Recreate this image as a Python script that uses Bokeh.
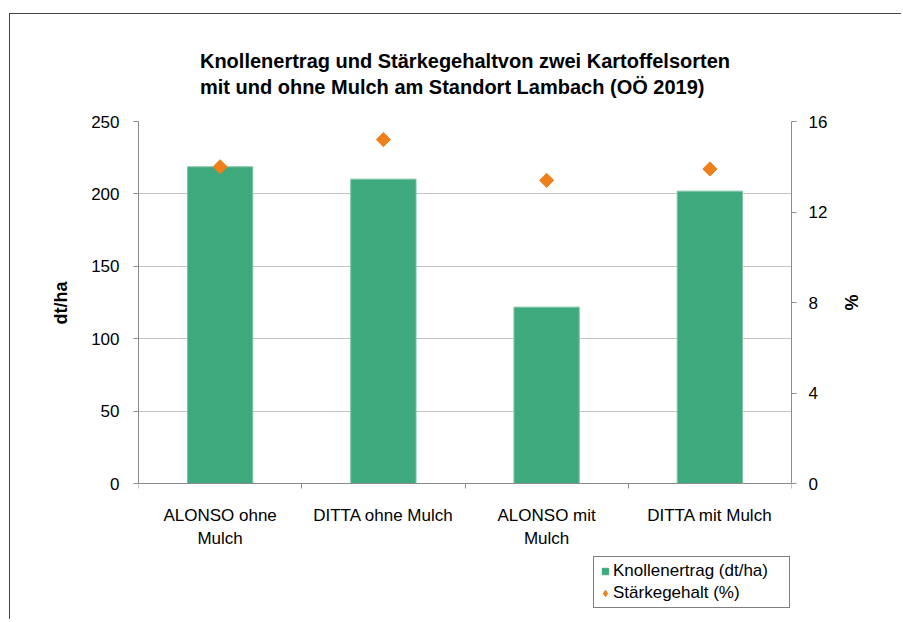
import math
from bokeh.plotting import figure
from bokeh.models import (Range1d, LinearAxis, FixedTicker, Legend, LegendItem,
                          ColumnDataSource, Title)
from bokeh.core.properties import value
from bokeh.embed import file_html
from bokeh.resources import INLINE

# ---- data ----
categories = ["ALONSO ohne\nMulch", "DITTA ohne Mulch", "ALONSO mit\nMulch", "DITTA mit Mulch"]
ertrag = [218.7, 210.2, 121.8, 201.9]          # Knollenertrag (dt/ha)
staerke = [14.0, 15.2, 13.4, 13.9]              # Stärkegehalt (%)
left_ticks = [0, 50, 100, 150, 200, 250]
right_ticks = [0, 4, 8, 12, 16]
title_lines = ["Knollenertrag und Stärkegehaltvon zwei Kartoffelsorten",
               "mit und ohne Mulch am Standort Lambach (OÖ 2019)"]
series_names = ["Knollenertrag (dt/ha)", "Stärkegehalt (%)"]
left_title = "dt/ha"
right_title = "%"

GREEN = "#3EA97C"
ORANGE = "#EF7F1A"
AXIS = "#8C8C8C"
GRID = "#C4C4C4"
FONT = "Liberation Sans"

# ---- geometry (pixels) ----
W, H = 892, 606
B_LEFT, B_RIGHT, B_TOP, B_BOTTOM = 128, 111, 107, 10
PX_0_TO_MAX = 362.0                      # pixels from 0 to 250 on the left axis
frame_h = H - B_TOP - B_BOTTOM
y_max = left_ticks[-1]
px_per_unit = PX_0_TO_MAX / y_max
y_min = y_max - frame_h / px_per_unit    # range extends below 0 for labels/legend
pct_max = right_ticks[-1]
pct_min = y_min * pct_max / y_max

xpos = [i + 0.5 for i in range(len(categories))]
src = ColumnDataSource(dict(x=xpos, ertrag=ertrag, staerke=staerke))

p = figure(width=W, height=H, output_backend="svg", toolbar_location=None,
           x_range=Range1d(0, len(categories)), y_range=Range1d(y_min, y_max),
           min_border_left=B_LEFT, min_border_right=B_RIGHT, min_border_top=B_TOP,
           min_border_bottom=B_BOTTOM, outline_line_color=None,
           margin=(13, 0, 0, 9),
           styles={"border-top": "1px solid #444444", "border-left": "1px solid #444444"})
p.extra_y_ranges = {"pct": Range1d(pct_min, pct_max)}

p.xgrid.grid_line_color = None
p.ygrid.grid_line_color = GRID
p.ygrid.ticker = FixedTicker(ticks=left_ticks[1:])

# bars
bars = p.vbar(x="x", top="ertrag", width=0.4, source=src, fill_color=GREEN,
              line_color="#7CC6A4", line_width=1)
# diamonds on secondary axis
pts = p.scatter(x="x", y="staerke", source=src, marker="square", angle=math.pi / 4,
                size=10, fill_color=ORANGE, line_color=ORANGE, y_range_name="pct")

# legend-only glyphs (one point placed outside the visible x range)
leg_sq = p.scatter(x=[-1], y=[0], marker="square", fill_color=GREEN, line_color=GREEN)
leg_dm = p.scatter(x=[-1], y=[0], marker="diamond", fill_color=ORANGE, line_color=ORANGE)

# x axis at y = 0, tick marks at category boundaries
p.xaxis.fixed_location = 0
p.xaxis.ticker = FixedTicker(ticks=list(range(len(categories) + 1)))
p.xaxis.major_label_overrides = {i: "" for i in range(len(categories) + 1)}
p.xaxis.major_label_text_font_size = "0px"
p.xaxis.major_label_standoff = 0
p.xaxis.major_tick_out = 5
p.xaxis.major_tick_in = 0

# category labels below the axis
label_y = -22 / px_per_unit
p.text(x=xpos, y=[label_y] * len(xpos), text=categories, text_align="center",
       text_baseline="top", text_font=value(FONT), text_font_size="17px",
       text_line_height=1.25, text_color="#000000")

# left y axis
p.yaxis.ticker = FixedTicker(ticks=left_ticks)
p.yaxis.bounds = (left_ticks[0], left_ticks[-1])
p.yaxis.major_tick_out = 5
p.yaxis.major_tick_in = 0
p.yaxis.major_label_standoff = 14

# right y axis
ry = LinearAxis(y_range_name="pct", ticker=FixedTicker(ticks=right_ticks))
ry.bounds = (right_ticks[0], right_ticks[-1])
ry.major_tick_out = 5
ry.major_tick_in = 0
ry.major_label_standoff = 12
p.add_layout(ry, "right")

for ax in [p.xaxis[0], p.yaxis[0], ry]:
    ax.axis_line_color = AXIS
    ax.major_tick_line_color = AXIS
    ax.minor_tick_line_color = None
    ax.major_label_text_font = FONT
    ax.major_label_text_color = "#000000"
for ax in [p.yaxis[0], ry]:
    ax.major_label_text_font_size = "17px"

# axis titles centred on the 0..max part of the axes
frame_bottom_to_mid = (frame_h - PX_0_TO_MAX / 2)      # from frame bottom to axis middle
p.add_layout(Title(text=left_title, align="left", vertical_align="bottom",
                   offset=frame_bottom_to_mid - 22, standoff=36,
                   text_font=FONT, text_font_style="bold", text_font_size="18px",
                   text_color="#000000"), "left")
p.add_layout(Title(text=right_title, align="left", vertical_align="bottom",
                   offset=PX_0_TO_MAX / 2 - 8, standoff=20,
                   text_font=FONT, text_font_style="bold", text_font_size="18px",
                   text_color="#000000"), "right")

# two-line title
p.add_layout(Title(text="\n".join(title_lines), align="center", standoff=46,
                   vertical_align="bottom",
                   text_font=FONT, text_font_style="bold", text_font_size="20px",
                   text_line_height=1.22, text_color="#000000"), "above")

legend = Legend(items=[LegendItem(label=series_names[0], renderers=[leg_sq]),
                       LegendItem(label=series_names[1], renderers=[leg_dm])],
                location=(455, 2), orientation="vertical",
                padding=3, spacing=0, margin=0, label_height=22, glyph_height=16,
                glyph_width=16, label_standoff=0, label_width=173,
                label_text_font=FONT, label_text_font_size="17px",
                label_text_color="#000000",
                border_line_color="#000000", border_line_width=1,
                background_fill_color="white", background_fill_alpha=1.0)
p.add_layout(legend, "center")

open("out.html", "w").write(file_html(p, INLINE))
